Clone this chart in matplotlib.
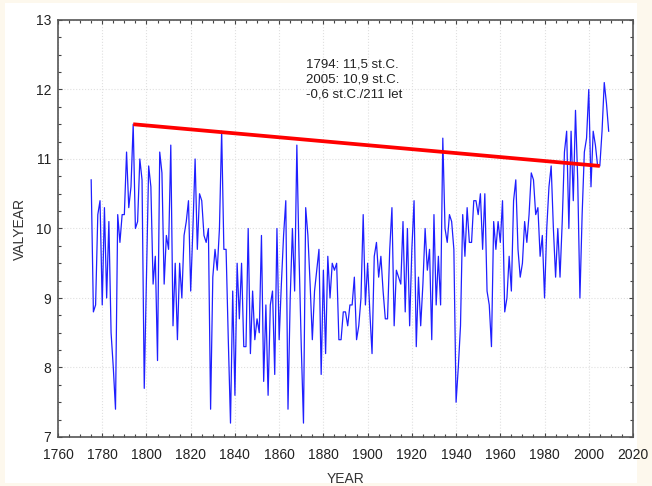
import matplotlib
matplotlib.use('Agg')
import matplotlib.pyplot as plt
from matplotlib.patches import Rectangle
from matplotlib.ticker import MultipleLocator

plt.rcParams['font.family'] = ['Liberation Sans', 'DejaVu Sans']

# Yearly mean temperature (st.C.)
years = list(range(1775, 2010))
valyear = [
    10.7, 8.8, 8.9, 10.2, 10.4, 8.9, 10.3, 9.0, 10.1, 8.5,          # 1775-1784
    8.0, 7.4, 10.2, 9.8, 10.2, 10.2, 11.1, 10.3, 10.6, 11.5,        # 1785-1794
    10.0, 10.1, 11.0, 10.7, 7.7, 9.3, 10.9, 10.6, 9.2, 9.6,         # 1795-1804
    8.1, 11.1, 10.8, 9.2, 9.9, 9.7, 11.2, 8.6, 9.5, 8.4,            # 1805-1814
    9.5, 9.0, 9.9, 10.1, 10.4, 9.1, 10.0, 11.0, 9.7, 10.5,          # 1815-1824
    10.4, 9.9, 9.8, 10.0, 7.4, 9.3, 9.7, 9.4, 10.0, 11.4,           # 1825-1834
    9.7, 9.7, 8.4, 7.2, 9.1, 7.6, 9.5, 8.7, 9.5, 8.3,               # 1835-1844
    8.3, 10.0, 8.2, 9.1, 8.4, 8.7, 8.5, 9.9, 7.8, 8.9,              # 1845-1854
    7.6, 8.9, 9.1, 7.9, 10.0, 8.4, 9.2, 9.9, 10.4, 7.4,             # 1855-1864
    9.0, 10.0, 9.1, 11.2, 9.6, 8.3, 7.2, 10.3, 9.9, 9.2,            # 1865-1874
    8.4, 9.1, 9.4, 9.7, 7.9, 9.4, 8.2, 9.6, 9.0, 9.5,               # 1875-1884
    9.4, 9.5, 8.4, 8.4, 8.8, 8.8, 8.6, 8.9, 8.9, 9.3,               # 1885-1894
    8.4, 8.6, 9.0, 10.2, 8.9, 9.5, 8.8, 8.2, 9.6, 9.8,              # 1895-1904
    9.3, 9.6, 9.1, 8.7, 8.7, 9.7, 10.3, 8.6, 9.4, 9.3,              # 1905-1914
    9.2, 10.1, 8.8, 10.0, 8.6, 9.7, 10.4, 8.3, 9.3, 8.6,            # 1915-1924
    9.2, 10.0, 9.4, 9.7, 8.4, 10.2, 8.9, 9.6, 8.9, 11.3,            # 1925-1934
    10.0, 9.8, 10.2, 10.1, 9.7, 7.5, 8.0, 8.6, 10.2, 9.6,           # 1935-1944
    10.3, 9.8, 9.8, 10.4, 10.4, 10.2, 10.5, 9.7, 10.5, 9.1,         # 1945-1954
    8.9, 8.3, 10.1, 9.7, 10.1, 9.8, 10.4, 8.8, 9.0, 9.6,            # 1955-1964
    9.1, 10.4, 10.7, 9.7, 9.3, 9.5, 10.1, 9.8, 10.2, 10.8,          # 1965-1974
    10.7, 10.2, 10.3, 9.6, 9.9, 9.0, 10.0, 10.6, 10.9, 10.0,        # 1975-1984
    9.3, 10.0, 9.3, 10.1, 11.1, 11.4, 10.0, 11.4, 10.4, 11.7,       # 1985-1994
    10.7, 9.0, 10.2, 11.1, 11.3, 12.0, 10.6, 11.4, 11.2, 10.9,      # 1995-2004
    10.9, 11.4, 12.1, 11.8, 11.4,                                   # 2005-2009
]

# Linear change between the two marked years
trend_years = [1794, 2005]
trend_vals = [11.5, 10.9]
note = '1794: 11,5 st.C.\n2005: 10,9 st.C.\n-0,6 st.C./211 let'

fig = plt.figure(figsize=(6.52, 4.86), dpi=100, facecolor='#fdf8ed')
# white panel behind the plot
fig.patches.append(Rectangle((5 / 652, 3 / 486), 632 / 652, 480 / 486,
                             transform=fig.transFigure, facecolor='white',
                             edgecolor='none', zorder=-1))
ax = fig.add_axes([58 / 652, 49 / 486, 575 / 652, 417 / 486], zorder=2)
ax.set_facecolor('white')

ax.plot(years, valyear, color='#1f1fff', lw=0.9, zorder=3)
ax.plot(trend_years, trend_vals, color='#ff0000', lw=2.7, zorder=4,
        solid_capstyle='butt')

ax.text(1872, 12.44, note, fontsize=9.5, va='top', ha='left',
        color='#222222', linespacing=1.3)

ax.set_xlim(1760, 2020)
ax.set_ylim(7, 13)
ax.xaxis.set_major_locator(MultipleLocator(20))
ax.xaxis.set_minor_locator(MultipleLocator(5))
ax.yaxis.set_major_locator(MultipleLocator(1))
ax.yaxis.set_minor_locator(MultipleLocator(0.25))
ax.tick_params(which='both', direction='in', top=True, right=True,
               colors='#444444', labelcolor='#222222', labelsize=10)
ax.tick_params(which='major', length=3, width=0.8, pad=5)
ax.tick_params(axis='x', which='major', pad=8)
ax.tick_params(which='minor', length=2, width=0.8)
ax.grid(True, which='major', color='#e0e0e0', ls=':', lw=0.8)

for s in ax.spines.values():
    s.set_color('#555555')
    s.set_linewidth(1.2)

ax.set_xlabel('YEAR', fontsize=10, color='#333333', labelpad=7)
ax.set_ylabel('VALYEAR', fontsize=10, color='#333333', labelpad=6)

fig.savefig('out.png', dpi=100, facecolor=fig.get_facecolor())
